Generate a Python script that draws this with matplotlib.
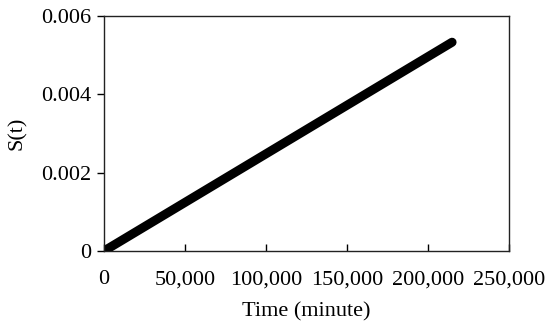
import matplotlib.pyplot as plt
from matplotlib.ticker import FuncFormatter

# S(t) line, end points
time_min = [0, 215000]
s_t = [0.0, 0.00533]

x_ticks = [0, 50000, 100000, 150000, 200000, 250000]
y_ticks = [0, 0.002, 0.004, 0.006]
y_tick_labels = ['0', '0.002', '0.004', '0.006']

plt.rcParams['font.family'] = ['Liberation Serif', 'DejaVu Serif']

fig = plt.figure(figsize=(5.5, 3.26), dpi=100)
ax = fig.add_axes([0.189, 0.230, 0.736, 0.721])

ax.plot(time_min, s_t, color='black', linewidth=6.5, solid_capstyle='round')

ax.set_xlim(0, 250000)
ax.set_ylim(0, 0.006)
ax.set_xticks(x_ticks)
ax.xaxis.set_major_formatter(FuncFormatter(lambda v, p: f'{int(v):,}'))
ax.set_yticks(y_ticks)
ax.set_yticklabels(y_tick_labels)

ax.tick_params(axis='x', direction='in', length=5, width=1, labelsize=16, pad=14)
ax.tick_params(axis='y', direction='out', length=5, width=1, labelsize=16, pad=4)
for s in ax.spines.values():
    s.set_linewidth(1)
    s.set_color('#222222')

ax.set_xlabel('Time (minute)', fontsize=16, labelpad=9)
ax.set_ylabel('S(t)', fontsize=16, labelpad=10)

fig.savefig('out.png', dpi=100)
